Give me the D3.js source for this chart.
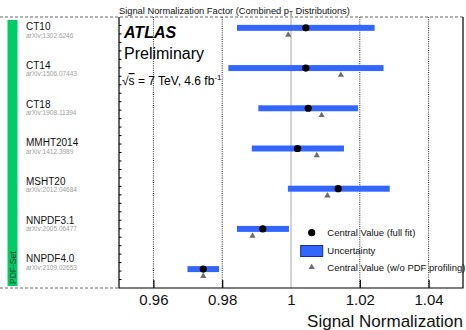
<!DOCTYPE html>
<html>
<head>
<meta charset="utf-8">
<script src="https://cdn.jsdelivr.net/npm/d3@7"></script>
<style>
  html, body { margin: 0; padding: 0; background: #fff; }
  svg { display: block; font-family: "Liberation Sans", Arial, Helvetica, sans-serif; }
</style>
</head>
<body>
<svg id="chart" width="466" height="330"></svg>
<script>
// PDF sets and their references
const pdfSets = ["CT10", "CT14", "CT18", "MMHT2014", "MSHT20", "NNPDF3.1", "NNPDF4.0"];
const arxivRefs = ["arXiv:1302.6246", "arXiv:1506.07443", "arXiv:1908.11394", "arXiv:1412.3989",
                   "arXiv:2012.04684", "arXiv:2005.06477", "arXiv:2109.02653"];

// Signal normalization results
const centralFull   = [1.0043, 1.0043, 1.0050, 1.0019, 1.0137, 0.9918, 0.9745];
const uncLow        = [0.9843, 0.9818, 0.9905, 0.9886, 0.9991, 0.9843, 0.9699];
const uncHigh       = [1.0243, 1.0269, 1.0195, 1.0154, 1.0287, 0.9994, 0.9791];
const centralNoProf = [0.9992, 1.0145, 1.0089, 1.0075, 1.0106, 0.9888, 0.9745];

const xTicks = [0.96, 0.98, 1.00, 1.02, 1.04];
const legendLabels = ["Central Value (full fit)", "Uncertainty", "Central Value (w/o PDF profiling)"];

const frame = { left: 119, right: 463, top: 17, bottom: 288 };
const FONT = "'Liberation Sans', Arial, Helvetica, sans-serif";

const svg = d3.select("#chart");

const x = d3.scaleLinear().domain([0.95, 1.05]).range([frame.left, frame.right]);
// rows of the result markers
const y = d3.scaleLinear().domain([-0.27, 6.47]).range([frame.top, frame.bottom]);
// bands for the PDF-set labels on the left
const yLab = d3.scaleBand().domain(pdfSets).range([frame.top, frame.bottom]);

const rows = pdfSets.map((name, i) => ({
  name, ref: arxivRefs[i], i,
  c: centralFull[i], lo: uncLow[i], hi: uncHigh[i], np: centralNoProf[i]
}));

// green side bar with "PDF-Set"
svg.append("rect")
  .attr("x", 7.5).attr("y", 20).attr("width", 10).attr("height", 266)
  .attr("fill", "#00cc66");
svg.append("text")
  .attr("transform", "translate(15.5,284) rotate(-90)")
  .attr("font-size", 8.5).attr("fill", "#1b3d24")
  .text("PDF-Set");

// dashed separators
svg.append("line")
  .attr("x1", 0).attr("x2", frame.right).attr("y1", frame.top).attr("y2", frame.top)
  .attr("stroke", "#666").attr("stroke-width", 1).attr("stroke-dasharray", "3,2");
svg.append("line")
  .attr("x1", 0).attr("x2", frame.left).attr("y1", frame.bottom).attr("y2", frame.bottom)
  .attr("stroke", "#666").attr("stroke-width", 1).attr("stroke-dasharray", "3,2");

// PDF-set labels
const lab = svg.append("g").selectAll("g").data(rows).join("g")
  .attr("transform", d => `translate(26,${yLab(d.name) + yLab.bandwidth() / 2})`);
lab.append("text").attr("y", -6.2).attr("font-size", 10).attr("fill", "#111").text(d => d.name);
lab.append("text").attr("y", 1.2).attr("font-size", 6.5).attr("fill", "#a0a0a0").text(d => d.ref);

// vertical grid
svg.append("g").selectAll("line").data(xTicks.filter(t => t !== 1)).join("line")
  .attr("x1", d => x(d)).attr("x2", d => x(d))
  .attr("y1", frame.top).attr("y2", frame.bottom)
  .attr("stroke", "#222").attr("stroke-width", 1).attr("stroke-dasharray", "1,1.2");
svg.append("line")
  .attr("x1", x(1)).attr("x2", x(1)).attr("y1", frame.top).attr("y2", frame.bottom)
  .attr("stroke", "#cfcfcf").attr("stroke-width", 1.8);

// uncertainty bars
svg.append("g").selectAll("rect").data(rows).join("rect")
  .attr("x", d => x(d.lo)).attr("width", d => x(d.hi) - x(d.lo))
  .attr("y", d => y(d.i) - 3).attr("height", 6)
  .attr("fill", "#3366ff");

// central values without PDF profiling
svg.append("g").selectAll("path").data(rows).join("path")
  .attr("d", d3.symbol(d3.symbolTriangle, 17))
  .attr("transform", d => `translate(${x(d.np)},${y(d.i) + 7})`)
  .attr("fill", "#6e6e6e");

// central values (full fit)
svg.append("g").selectAll("circle").data(rows).join("circle")
  .attr("cx", d => x(d.c)).attr("cy", d => y(d.i)).attr("r", 3.6)
  .attr("fill", "#000");

// frame: left, bottom, right
svg.append("path")
  .attr("d", `M${frame.left},${frame.top}V${frame.bottom}H${frame.right}V${frame.top}`)
  .attr("fill", "none").attr("stroke", "#000").attr("stroke-width", 1.2);

// left minor ticks
const yMinor = d3.scaleLinear().domain([0, 32]).range([frame.bottom, frame.top]);
svg.append("g").selectAll("line").data(d3.range(1, 32)).join("line")
  .attr("x1", frame.left).attr("x2", frame.left + 2.5)
  .attr("y1", d => yMinor(d)).attr("y2", d => yMinor(d))
  .attr("stroke", "#000").attr("stroke-width", 1);

// bottom axis
const xAxis = d3.axisBottom(x).tickValues(xTicks).tickSizeInner(-8).tickSizeOuter(0)
  .tickPadding(6).tickFormat(d => d === 1 ? "1" : d3.format(".2f")(d));
const gx = svg.append("g").attr("transform", `translate(0,${frame.bottom})`).call(xAxis);
gx.select(".domain").remove();
gx.selectAll(".tick line").attr("stroke", d => d === 1 ? "none" : "#000").attr("stroke-width", 1.2);
gx.selectAll(".tick text").attr("font-family", FONT).attr("font-size", 15).attr("fill", "#111");

svg.append("text")
  .attr("x", frame.right).attr("y", 327).attr("text-anchor", "end")
  .attr("font-size", 17).attr("fill", "#111").text("Signal Normalization");

// top title
const title = svg.append("text").attr("x", frame.left).attr("y", 13.5)
  .attr("font-size", 9.3).attr("fill", "#111");
title.append("tspan").text("Signal Normalization Factor (Combined p");
title.append("tspan").attr("font-size", 6.5).attr("dy", 2.5).text("T");
title.append("tspan").attr("dy", -2.5).text(" Distributions)");

// ATLAS label
svg.append("text").attr("x", 124).attr("y", 37.5)
  .attr("font-size", 16).attr("font-weight", "bold").attr("font-style", "italic")
  .attr("fill", "#000").text("ATLAS");
svg.append("text").attr("x", 124).attr("y", 59)
  .attr("font-size", 16).attr("fill", "#000").text("Preliminary");
const energy = svg.append("text").attr("x", 122).attr("y", 85)
  .attr("font-size", 12).attr("fill", "#000");
energy.append("tspan").text("√");
energy.append("tspan").attr("text-decoration", "overline").text("s");
energy.append("tspan").text(" = 7 TeV, 4.6 fb");
energy.append("tspan").attr("font-size", 8).attr("dy", -5).text("-1");

// legend
const lg = svg.append("g");
const legX = 311.7, legY = [232.7, 251, 267.3];
lg.append("circle").attr("cx", legX).attr("cy", legY[0]).attr("r", 3.6).attr("fill", "#000");
lg.append("rect").attr("x", legX - 11).attr("y", legY[1] - 5.5).attr("width", 22).attr("height", 11)
  .attr("fill", "#3366ff").attr("stroke", "#1a2a99").attr("stroke-width", 1);
lg.append("path").attr("d", d3.symbol(d3.symbolTriangle, 17))
  .attr("transform", `translate(${legX},${legY[2]})`).attr("fill", "#6e6e6e");
lg.selectAll("text").data(legendLabels).join("text")
  .attr("x", 327.3).attr("y", (d, i) => legY[i] + 3.3)
  .attr("font-size", 9.5).attr("fill", "#111").text(d => d);
</script>
</body>
</html>
